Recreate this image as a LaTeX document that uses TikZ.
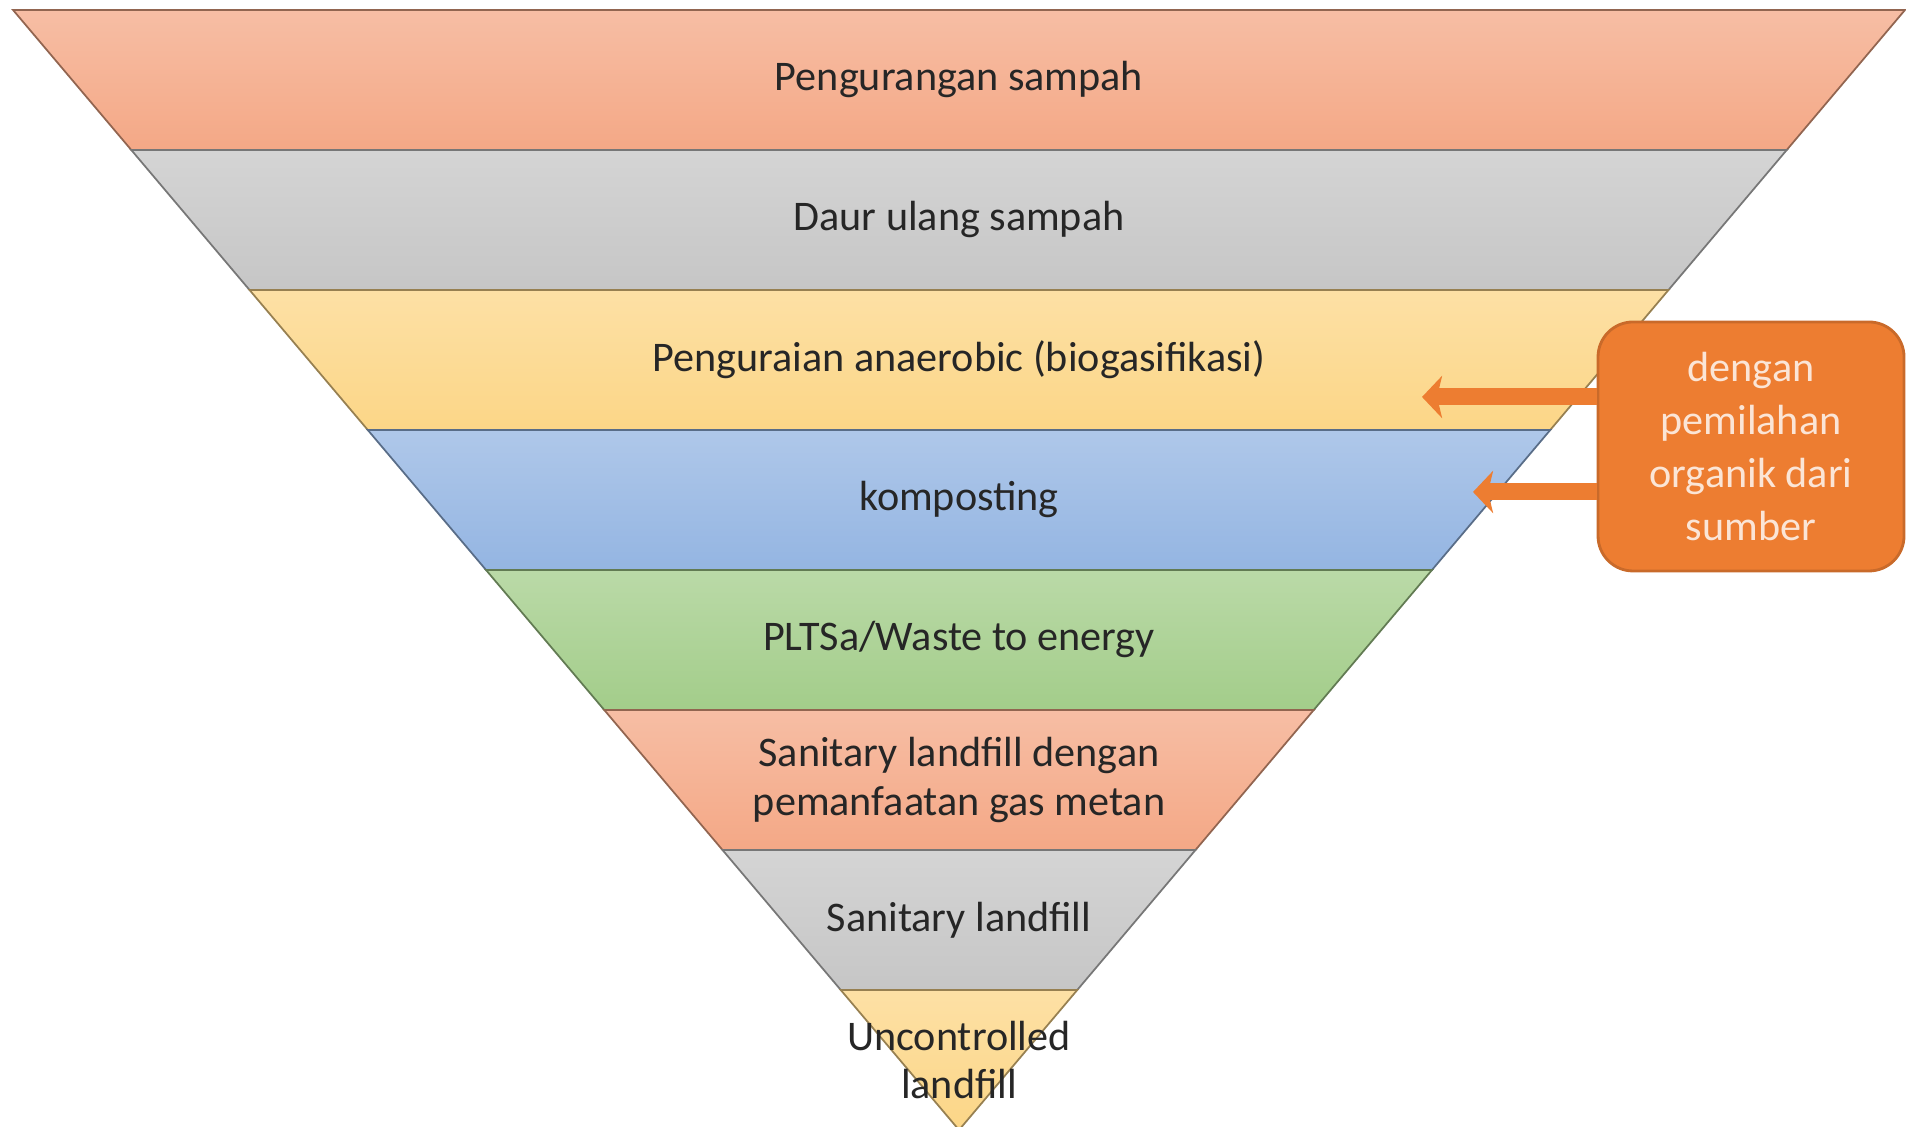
\documentclass[tikz,border=0pt]{standalone}
\usepackage{fontspec}
\setmainfont{Carlito}
\usetikzlibrary{positioning, arrows.meta, calc}
\definecolor{salmon}{RGB}{244,168,134}
\definecolor{stone}{RGB}{198,198,198}
\definecolor{sand}{RGB}{252,214,135}
\definecolor{sky}{RGB}{148,181,226}
\definecolor{leaf}{RGB}{163,205,138}
\definecolor{boxorange}{RGB}{237,125,49}
\definecolor{peach}{RGB}{251,229,214}

\begin{document}
\begin{tikzpicture}[>={Stealth[length=0.2cm, width=0.42cm, inset=0.05cm]},
    tier/.style={font=\fontsize{12}{13.7}\selectfont, text=black!85, align=center},
    sortbox/.style={fill=boxorange, draw=boxorange!85!black, line width=0.8pt,
        rounded corners=0.35cm, minimum width=3.06cm, minimum height=2.49cm,
        text=peach, align=center, font=\fontsize{12}{15}\selectfont},
    feed/.style={->, boxorange, line width=0.17cm}]
\useasboundingbox (0,0) rectangle (19.06,11.27);
\clip (0,0) rectangle (19.06,11.27);
% inverted pyramid, one band per level
\foreach \c [count=\i from 0] in {salmon,stone,sand,sky,leaf,salmon,stone,sand} {
    \pgfmathsetmacro\yt{11.17-1.4*\i}
    \pgfmathsetmacro\yb{\yt-1.4}
    \pgfmathsetmacro\wt{0.8446*(\yt+0.03)}
    \pgfmathsetmacro\wb{0.8446*(\yb+0.03)}
    \shade[top color=\c!75!white, bottom color=\c, draw=\c!60!black, line width=0.5pt]
        (9.59-\wt,\yt) -- (9.59+\wt,\yt) -- (9.59+\wb,\yb) -- (9.59-\wb,\yb) -- cycle;
}
\node[tier] (reduce)   at (9.59,10.47) {Pengurangan sampah};
\node[tier] (recycle)  at (9.59,9.07) {Daur ulang sampah};
\node[tier] (biogas)   at (9.59,7.67) {Penguraian anaerobic (biogasifikasi)};
\node[tier] (compost)  at (9.59,6.27) {komposting};
\node[tier] (wte)      at (9.59,4.87) {PLTSa/Waste to energy};
\node[tier] (sanitgas) at (9.59,3.47) {Sanitary landfill dengan\\pemanfaatan gas metan};
\node[tier] (sanit)    at (9.59,2.07) {Sanitary landfill};
\node[tier] (open)     at (9.59,0.67) {Uncontrolled\\landfill};
% source separation note
\coordinate (biotip) at (14.22,7.30);
\coordinate (comptip) at (14.73,6.35);
\node[sortbox] (sort) at (17.51,6.805) {dengan\\pemilahan\\organik dari\\sumber};
\draw[feed] (sort.west |- biotip) -- (biotip);
\draw[feed] (sort.west |- comptip) -- (comptip);
\end{tikzpicture}
\end{document}
